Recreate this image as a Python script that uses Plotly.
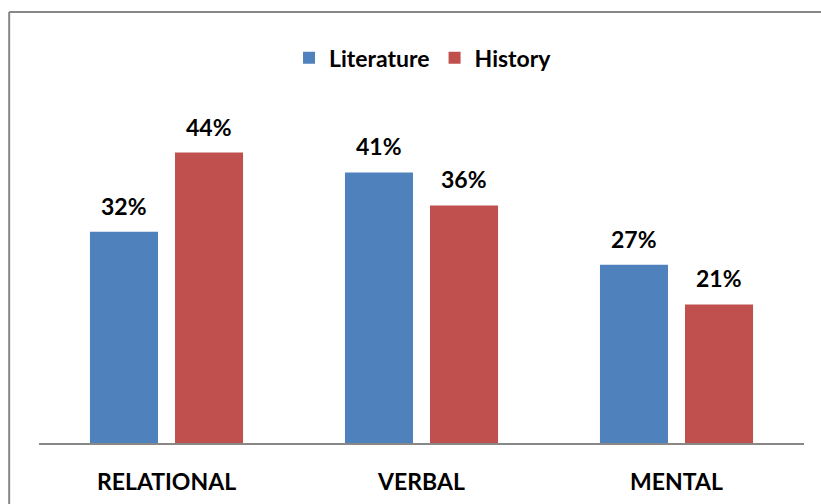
import plotly.graph_objects as go

categories = ["RELATIONAL", "VERBAL", "MENTAL"]
literature = [32, 41, 27]
history = [44, 36, 21]

series = [
    ("Literature", literature, "#4F81BD", -1),
    ("History", history, "#C0504D", 1),
]

font = dict(family="Lato", size=23, color="#000000")

fig = go.Figure()
annotations = []
for name, vals, color, side in series:
    fig.add_trace(go.Bar(
        x=categories, y=vals, name=name,
        marker=dict(color=color, line=dict(width=0)),
    ))
    # value labels floating above each bar
    for cat, v in zip(categories, vals):
        annotations.append(dict(
            x=cat, y=v, xref="x", yref="y",
            text=f"<b>{v}%</b>", showarrow=False,
            xshift=side * 42.5, yshift=26, yanchor="middle",
            font=font,
        ))

# chart frame: only the left and top edges fall inside the picture
frame = dict(color="#888888", width=2)
fig.update_layout(
    width=821, height=504,
    margin=dict(l=39, r=17, t=113, b=61, autoexpand=False),
    paper_bgcolor="white", plot_bgcolor="white",
    barmode="group", bargap=0.333, bargroupgap=0.2,
    font=font,
    annotations=annotations,
    legend=dict(
        orientation="h", x=0.502, xanchor="center", y=1.167, yanchor="middle",
        font=dict(family="Lato", size=23, weight="bold"),
        itemwidth=30, tracegroupgap=0,
    ),
    shapes=[
        dict(type="line", xref="paper", yref="paper",
             x0=-0.039, y0=-0.3, x1=-0.039, y1=1.306, line=frame),
        dict(type="line", xref="paper", yref="paper",
             x0=-0.039, y0=1.306, x1=1.05, y1=1.306, line=frame),
    ],
)
fig.update_xaxes(
    showline=True, linecolor="#888888", linewidth=1.5, automargin=False,
    ticks="", showgrid=False, ticklabelstandoff=18,
    tickfont=dict(family="Lato", size=23, weight="bold"),
)
fig.update_yaxes(range=[0, 50], visible=False, showgrid=False)

fig.write_html("out.html", config={"displayModeBar": False},
               post_script="document.body.style.margin='0';")
